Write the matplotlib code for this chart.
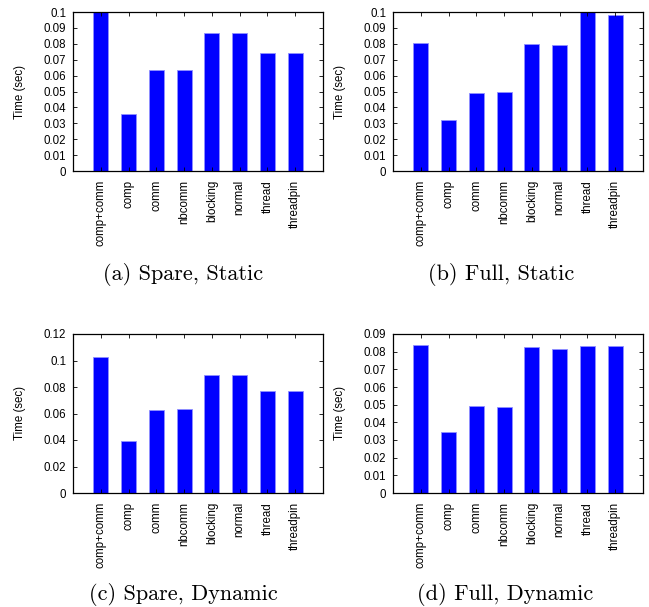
import matplotlib
matplotlib.use('Agg')
import matplotlib.pyplot as plt
import numpy as np

plt.rcParams['font.family'] = ['Liberation Sans', 'DejaVu Sans']

# 数据
labels = ['comp+comm', 'comp', 'comm', 'nbcomm', 'blocking', 'normal', 'thread', 'threadpin']
spare_static = [0.1005, 0.0360, 0.0638, 0.0634, 0.0865, 0.0865, 0.0739, 0.0739]
full_static = [0.0806, 0.0318, 0.0493, 0.0499, 0.0798, 0.0792, 0.1005, 0.0983]
spare_dynamic = [0.1024, 0.0391, 0.0628, 0.0633, 0.0887, 0.0887, 0.0769, 0.0769]
full_dynamic = [0.0836, 0.0344, 0.0490, 0.0486, 0.0826, 0.0815, 0.0830, 0.0830]

captions = ['(a) Spare, Static', '(b) Full, Static', '(c) Spare, Dynamic', '(d) Full, Dynamic']
ymaxes = [0.1, 0.1, 0.12, 0.09]
ysteps = [0.01, 0.01, 0.02, 0.01]

fig = plt.figure(figsize=(6.49, 6.07), dpi=100)

W, H = 649, 607
# 子图位置 (像素)
boxes = [(73, 12), (393, 12), (73, 334), (393, 334)]
caption_pos = [(183, 275), (501, 275), (183, 594), (505, 594)]
aw, ah = 250, 159

for i, values in enumerate([spare_static, full_static, spare_dynamic, full_dynamic]):
    x0, y0 = boxes[i]
    ax = fig.add_axes([x0 / W, 1 - (y0 + ah) / H, aw / W, ah / H])
    x = np.arange(len(labels))
    ax.bar(x, values, width=0.54, color='#0000ff', edgecolor='#9090ff', linewidth=0.6)
    ax.set_xlim(-1, len(labels))
    ax.set_ylim(0, ymaxes[i])
    ticks = np.arange(0, ymaxes[i] + ysteps[i] / 2, ysteps[i])
    ax.set_yticks(ticks)
    ax.set_yticklabels(['0' if t == 0 else ('%.2f' % t).rstrip('0') for t in ticks])
    ax.set_xticks(x)
    ax.set_xticklabels(labels, rotation=90, va='top', ha='center')
    ax.tick_params(axis='both', direction='in', length=3, width=0.6, labelsize=8.3,
                   top=True, right=True, colors='black')
    ax.tick_params(axis='x', pad=6.5)
    ax.tick_params(axis='y', pad=5)
    for s in ax.spines.values():
        s.set_linewidth(0.9)
    ax.set_ylabel('Time (sec)', fontsize=8.3)
    ax.yaxis.set_label_coords(-0.188, 0.5)

    cx, cy = caption_pos[i]
    fig.text(cx / W, 1 - cy / H, captions[i], family='cmr10', fontsize=16,
             ha='center', va='center')

plt.savefig('out.png', dpi=100, facecolor='white')
plt.close()
